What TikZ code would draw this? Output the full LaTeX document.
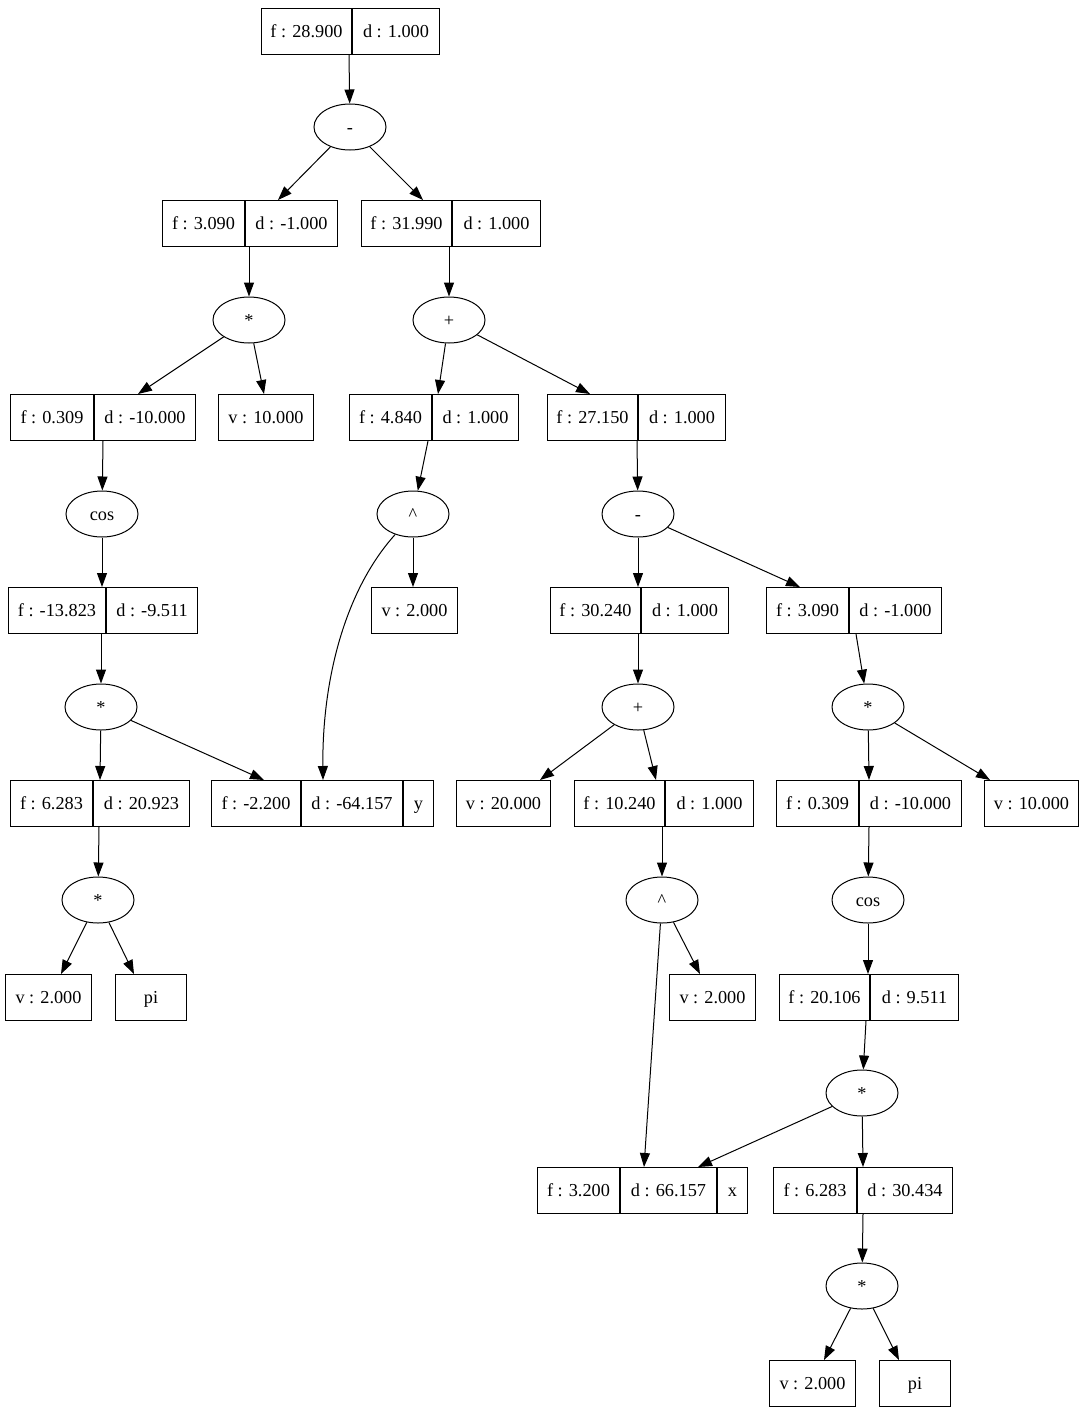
\documentclass[tikz,border=0pt]{standalone}
\usepackage{fontspec}
\setmainfont{Liberation Serif}
\usetikzlibrary{arrows.meta,calc,shapes.geometric}
\begin{document}
\begin{tikzpicture}[x=0.75pt,y=-0.75pt,
  fld/.style={draw,rectangle,line width=0.75pt,minimum height=34.5pt,inner sep=0pt,text height=10pt,text depth=1pt,anchor=north west,font=\fontsize{13.7pt}{16pt}\selectfont},
  opn/.style={draw,ellipse,line width=0.75pt,minimum width=54pt,minimum height=34.5pt,inner sep=0pt,text height=10pt,text depth=1pt,font=\fontsize{13.7pt}{16pt}\selectfont},
  conn/.style={line width=0.75pt,-{Triangle[length=10.5pt,width=7.5pt]}}]
\useasboundingbox (0,0) rectangle (1083,1413);

% records
\node[fld,minimum width=67.5pt] (r1a) at (261,8) {f : 28.900};
\node[fld,minimum width=65.25pt] (r1b) at (r1a.north east) {d : 1.000};

\node[fld,minimum width=61.5pt] (r2a) at (162,200) {f : 3.090};
\node[fld,minimum width=69pt] (r2b) at (r2a.north east) {d : -1.000};

\node[fld,minimum width=67.5pt] (r3a) at (361,200) {f : 31.990};
\node[fld,minimum width=66pt] (r3b) at (r3a.north east) {d : 1.000};

\node[fld,minimum width=62.25pt] (r4a) at (10,394) {f : 0.309};
\node[fld,minimum width=75.75pt] (r4b) at (r4a.north east) {d : -10.000};

\node[fld,minimum width=71.25pt] (r5) at (218,394) {v : 10.000};

\node[fld,minimum width=61.5pt] (r6a) at (349,394) {f : 4.840};
\node[fld,minimum width=64.5pt] (r6b) at (r6a.north east) {d : 1.000};

\node[fld,minimum width=67.5pt] (r7a) at (547,394) {f : 27.150};
\node[fld,minimum width=65.25pt] (r7b) at (r7a.north east) {d : 1.000};

\node[fld,minimum width=64.5pt] (r8) at (371,587) {v : 2.000};

\node[fld,minimum width=72.75pt] (r9a) at (8,587) {f : -13.823};
\node[fld,minimum width=68.25pt] (r9b) at (r9a.north east) {d : -9.511};

\node[fld,minimum width=67.5pt] (r10a) at (550,587) {f : 30.240};
\node[fld,minimum width=65.25pt] (r10b) at (r10a.north east) {d : 1.000};

\node[fld,minimum width=61.5pt] (r11a) at (766,587) {f : 3.090};
\node[fld,minimum width=69pt] (r11b) at (r11a.north east) {d : -1.000};

\node[fld,minimum width=61.5pt] (r12a) at (10,780) {f : 6.283};
\node[fld,minimum width=72pt] (r12b) at (r12a.north east) {d : 20.923};

\node[fld,minimum width=66.75pt] (r13a) at (211,780) {f : -2.200};
\node[fld,minimum width=75.75pt] (r13b) at (r13a.north east) {d : -64.157};
\node[fld,minimum width=22.5pt] (r13c) at (r13b.north east) {y};

\node[fld,minimum width=70.5pt] (r14) at (456,780) {v : 20.000};

\node[fld,minimum width=67.5pt] (r15a) at (574,780) {f : 10.240};
\node[fld,minimum width=66pt] (r15b) at (r15a.north east) {d : 1.000};

\node[fld,minimum width=61.5pt] (r16a) at (776,780) {f : 0.309};
\node[fld,minimum width=76.5pt] (r16b) at (r16a.north east) {d : -10.000};

\node[fld,minimum width=70.5pt] (r17) at (984,780) {v : 10.000};

\node[fld,minimum width=64.5pt] (r18) at (5,974) {v : 2.000};
\node[fld,minimum width=53.25pt] (r19) at (115,974) {pi};
\node[fld,minimum width=64.5pt] (r20) at (669,974) {v : 2.000};

\node[fld,minimum width=67.5pt] (r21a) at (779,974) {f : 20.106};
\node[fld,minimum width=66pt] (r21b) at (r21a.north east) {d : 9.511};

\node[fld,minimum width=61.5pt] (r22a) at (537,1167) {f : 3.200};
\node[fld,minimum width=72pt] (r22b) at (r22a.north east) {d : 66.157};
\node[fld,minimum width=22.5pt] (r22c) at (r22b.north east) {x};

\node[fld,minimum width=62.25pt] (r23a) at (773,1167) {f : 6.283};
\node[fld,minimum width=71.25pt] (r23b) at (r23a.north east) {d : 30.434};

\node[fld,minimum width=64.5pt] (r24) at (769,1360) {v : 2.000};
\node[fld,minimum width=53.25pt] (r25) at (879,1360) {pi};

% operators
\node[opn] (e1) at (350,127) {-};
\node[opn] (e2) at (249,320) {*};
\node[opn] (e3) at (449,320) {+};
\node[opn] (e4) at (102,514) {cos};
\node[opn] (e5) at (413,514) {\textasciicircum};
\node[opn] (e6) at (638,514) {-};
\node[opn] (e7) at (101,707) {*};
\node[opn] (e8) at (638,707) {+};
\node[opn] (e9) at (868,707) {*};
\node[opn] (e10) at (98,900) {*};
\node[opn] (e11) at (662,900) {\textasciicircum};
\node[opn] (e12) at (868,900) {cos};
\node[opn] (e13) at (862,1093) {*};
\node[opn] (e14) at (862,1286) {*};

% connectors
\draw[conn] ($(r1a.south west)+(88,0)$) -- (e1);
\draw[conn] (e1) -- ($(r2b.north west)+(33,0)$);
\draw[conn] (e1) -- ($(r3a.north west)+(62,0)$);
\draw[conn] ($(r2b.south west)+(4,0)$) -- (e2);
\draw[conn] ($(r3a.south west)+(88,0)$) -- (e3);
\draw[conn] (e2) -- ($(r4b.north west)+(44,0)$);
\draw[conn] (e2) -- ($(r5.north west)+(46,0)$);
\draw[conn] (e3) -- ($(r6b.north west)+(6,0)$);
\draw[conn] (e3) -- ($(r7a.north west)+(43,0)$);
\draw[conn] ($(r4b.south west)+(9,0)$) -- (e4);
\draw[conn] ($(r6a.south west)+(79,0)$) -- (e5);
\draw[conn] ($(r7a.south west)+(90,0)$) -- (e6);
\draw[conn] (e4) -- ($(r9a.north west)+(94,0)$);
\draw[conn] (e5) -- ($(r8.north west)+(42,0)$);
\draw[conn] (e5.229) .. controls (345,590) and (322,680) .. ($(r13b.north west)+(22,0)$);
\draw[conn] (e6) -- ($(r10a.north west)+(88,0)$);
\draw[conn] (e6) -- ($(r11a.north west)+(34,0)$);
\draw[conn] ($(r9a.south west)+(93,0)$) -- (e7);
\draw[conn] ($(r10a.south west)+(88,0)$) -- (e8);
\draw[conn] ($(r11b.south west)+(7,0)$) -- (e9);
\draw[conn] (e7) -- ($(r12a.north west)+(90,0)$);
\draw[conn] (e7) -- ($(r13a.north west)+(53,0)$);
\draw[conn] (e8) -- ($(r14.north west)+(84,0)$);
\draw[conn] (e8) -- ($(r15a.north west)+(82,0)$);
\draw[conn] (e9) -- ($(r16b.north west)+(10,0)$);
\draw[conn] (e9) -- ($(r17.north west)+(6,0)$);
\draw[conn] ($(r12a.south west)+(89,0)$) -- (e10);
\draw[conn] ($(r15a.south west)+(88,0)$) -- (e11);
\draw[conn] ($(r16b.south west)+(10,0)$) -- (e12);
\draw[conn] (e10) -- ($(r18.north west)+(56,0)$);
\draw[conn] (e10) -- ($(r19.north west)+(19,0)$);
\draw[conn] (e11) -- ($(r22b.north west)+(24,0)$);
\draw[conn] (e11) -- ($(r20.north west)+(31,0)$);
\draw[conn] (e12) -- ($(r21a.north west)+(89,0)$);
\draw[conn] ($(r21a.south west)+(87,0)$) -- (e13);
\draw[conn] (e13) -- ($(r22b.north west)+(78,0)$);
\draw[conn] (e13) -- ($(r23b.north west)+(6,0)$);
\draw[conn] ($(r23b.south west)+(6,0)$) -- (e14);
\draw[conn] (e14) -- ($(r24.north west)+(55,0)$);
\draw[conn] (e14) -- ($(r25.north west)+(20,0)$);
\end{tikzpicture}
\end{document}
